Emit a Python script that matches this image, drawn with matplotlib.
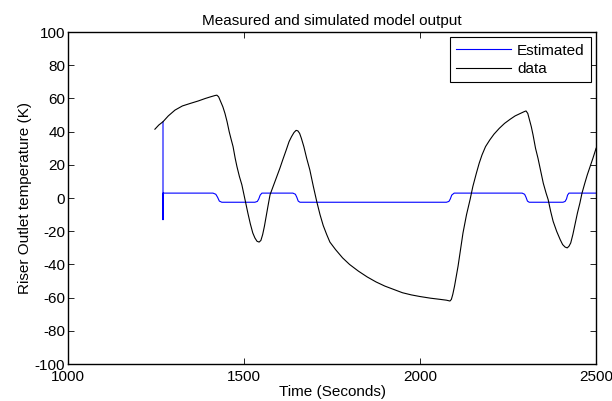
import matplotlib
matplotlib.use("Agg")
import matplotlib.pyplot as plt

plt.rcParams['font.family'] = ['Liberation Sans', 'DejaVu Sans']
plt.rcParams['axes.unicode_minus'] = False

# measured riser outlet temperature (time in s, value in K)
data_t = [1247, 1258, 1270, 1285, 1304, 1325, 1347, 1370, 1390, 1405, 1418,
          1423, 1428, 1434, 1440, 1446, 1452, 1458, 1464, 1469, 1475, 1480,
          1487, 1494, 1502, 1511, 1518, 1525, 1531, 1537, 1543, 1548, 1553,
          1558, 1563, 1568, 1574, 1581, 1588, 1595, 1602, 1610, 1620, 1628,
          1635, 1642, 1648, 1653, 1658, 1663, 1670, 1678, 1687, 1697, 1707,
          1716, 1725, 1735, 1744, 1760, 1780, 1800, 1825, 1850, 1875, 1900,
          1925, 1950, 1975, 2000, 2030, 2057, 2075, 2085, 2089, 2093, 2098,
          2103, 2108, 2115, 2122, 2132, 2142, 2150, 2160, 2168, 2176, 2186,
          2198, 2210, 2225, 2240, 2256, 2270, 2285, 2295, 2301, 2306, 2311,
          2316, 2321, 2328, 2335, 2341, 2350, 2358, 2364, 2371, 2378, 2388,
          2398, 2405, 2412, 2418, 2423, 2428, 2434, 2440, 2447, 2454, 2460,
          2468, 2475, 2483, 2491, 2500]
data_v = [41.5, 44, 46, 49.5, 53, 55.5, 57, 58.5, 60, 61, 61.8,
          62, 61, 58, 55, 51, 46, 40, 35, 31, 24, 19,
          13, 8, 0, -9, -15.5, -21, -24, -26, -26.5, -25.5, -22,
          -17, -11, -5, 2, 6, 10, 14, 18, 23, 29, 34,
          37, 39.5, 40.8, 40.5, 39, 36, 31, 24, 17, 7, -2.4,
          -10, -16.5, -22, -26.5, -31, -36, -40, -44, -47.5, -50.5, -53,
          -55, -57, -58.3, -59.3, -60.3, -61, -61.5, -62, -61, -58, -53,
          -47, -41, -31, -21, -10, -1, 7, 15, 21, 26, 31,
          35, 38.5, 42, 45, 47.5, 49.5, 51, 52, 52.5, 51, 47,
          43, 38, 30, 24, 18, 9, 3, -1, -8, -14, -20,
          -25, -28, -29.5, -30, -29, -27, -22, -16, -9, -3, 3,
          9, 14, 19, 24, 30]

# estimated model output
est_t = [1270, 1270, 1270, 1412, 1420, 1425, 1430, 1437, 1531, 1538, 1542,
         1546, 1551, 1639, 1646, 1650, 1654, 1659, 2075, 2082, 2086, 2090,
         2097, 2290, 2297, 2301, 2305, 2310, 2406, 2412, 2416, 2419, 2423, 2500]
est_v = [46, -13, 3, 3, 2.3, 0.5, -1.8, -2.5, -2.5, -2.0, -0.5,
         1.8, 3, 3, 2.3, 0.5, -1.8, -2.5, -2.5, -2.0, -0.5, 1.8,
         3, 3, 2.3, 0.5, -1.8, -2.5, -2.5, -2.0, -0.5, 1.8, 3, 3]

x_ticks = [1000, 1500, 2000, 2500]
y_ticks = list(range(-100, 101, 20))

fs = 11

fig = plt.figure(figsize=(6.12, 4.01), dpi=100)
ax = fig.add_axes([0.111, 0.092, 0.863, 0.828])

ax.plot(est_t, est_v, color='#0000ff', linewidth=0.8, label='Estimated')
ax.plot(data_t, data_v, color='black', linewidth=0.8, label='data')

ax.set_xlim(1000, 2500)
ax.set_ylim(-100, 100)
ax.set_xticks(x_ticks)
ax.set_yticks(y_ticks)
ax.tick_params(direction='in', length=4, width=0.6, labelsize=fs,
               top=True, right=True)
ax.tick_params(axis='y', pad=2)
ax.tick_params(axis='x', pad=4)
for s in ax.spines.values():
    s.set_linewidth(1.0)

ax.set_title('Measured and simulated model output', fontsize=fs, pad=5)
ax.set_xlabel('Time (Seconds)', fontsize=fs, labelpad=1)
ax.set_ylabel('Riser Outlet temperature (K)', fontsize=fs, labelpad=2)

leg = ax.legend(loc='upper right', fontsize=fs, fancybox=False,
                edgecolor='black', framealpha=1, handlelength=3.6,
                handletextpad=0.4, borderaxespad=0.35, borderpad=0.4,
                labelspacing=0.3)
leg.get_frame().set_linewidth(0.8)

fig.savefig('out.png', dpi=100)
